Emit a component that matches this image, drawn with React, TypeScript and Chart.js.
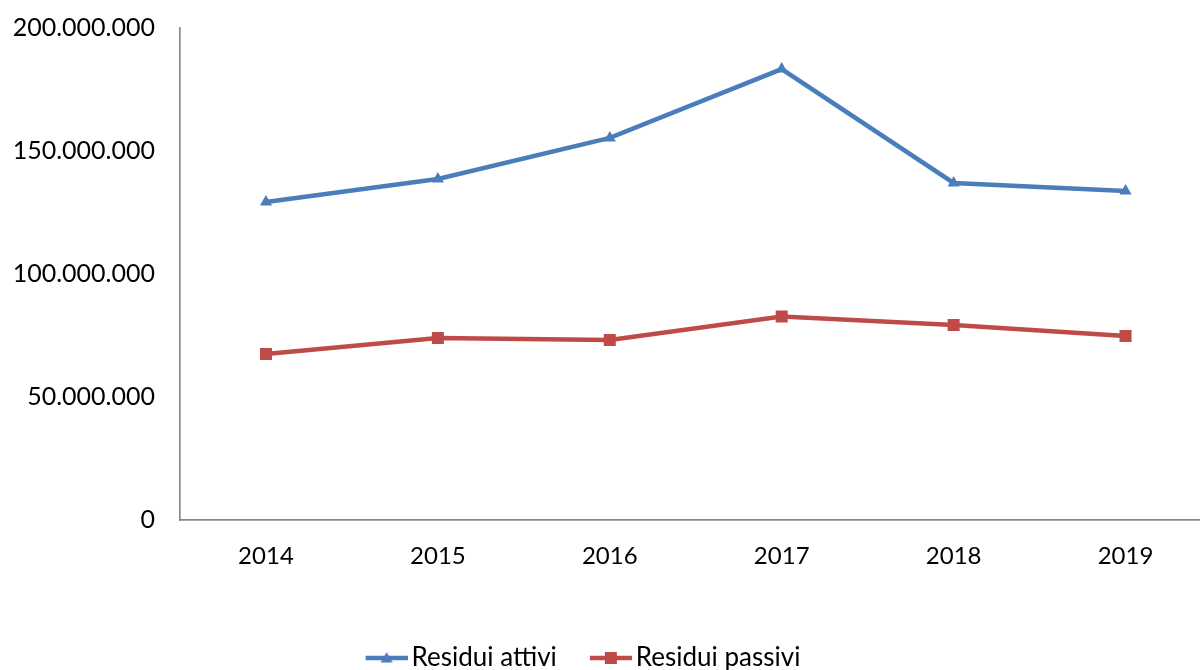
import React, { useEffect, useRef } from "react";
import { Chart, registerables } from "chart.js";

Chart.register(...registerables);

const years = ["2014", "2015", "2016", "2017", "2018", "2019"];
const residuiAttivi = [129300000, 138600000, 155300000, 183300000, 137000000, 133700000];
const residuiPassivi = [67500000, 74000000, 73200000, 82700000, 79300000, 74800000];
const yTickValues = [0, 50000000, 100000000, 150000000, 200000000];
const seriesNames = ["Residui attivi", "Residui passivi"];

const BLUE = "#4A7EBB";
const RED = "#BE4B48";
const AXIS = "#898989";
const FONT = "Lato, 'Open Sans', sans-serif";

function formatIt(v: number): string {
  return String(Math.round(v)).replace(/\B(?=(\d{3})+(?!\d))/g, ".");
}

// legend sample: transparent 9px on the left so the visible line starts at the item's x
function legendImage(color: string, kind: "triangle" | "rect"): HTMLCanvasElement {
  const c = document.createElement("canvas");
  c.width = 51;
  c.height = 16;
  const ctx = c.getContext("2d")!;
  ctx.strokeStyle = color;
  ctx.fillStyle = color;
  ctx.lineWidth = 4.5;
  ctx.beginPath();
  ctx.moveTo(9, 8);
  ctx.lineTo(51, 8);
  ctx.stroke();
  ctx.beginPath();
  if (kind === "triangle") {
    ctx.moveTo(30, 2);
    ctx.lineTo(36, 12.5);
    ctx.lineTo(24, 12.5);
    ctx.closePath();
  } else {
    ctx.rect(24, 2, 12, 12);
  }
  ctx.fill();
  return c;
}

export default function App() {
  const ref = useRef<HTMLCanvasElement | null>(null);

  useEffect(() => {
    if (!ref.current) return;
    const imgs = [legendImage(BLUE, "triangle"), legendImage(RED, "rect")];
    const chart = new Chart(ref.current, {
      type: "line",
      data: {
        labels: years,
        datasets: [
          {
            label: seriesNames[0],
            data: residuiAttivi,
            borderColor: BLUE,
            backgroundColor: BLUE,
            borderWidth: 4.5,
            pointStyle: "triangle",
            pointRadius: 7,
            pointBorderWidth: 0,
            tension: 0,
          },
          {
            label: seriesNames[1],
            data: residuiPassivi,
            borderColor: RED,
            backgroundColor: RED,
            borderWidth: 4.5,
            pointStyle: "rect",
            pointRadius: 8.5,
            pointBorderWidth: 0,
            tension: 0,
          },
        ],
      },
      options: {
        responsive: false,
        animation: false,
        layout: { padding: { top: 28, left: 0, right: 0, bottom: 19 } },
        plugins: {
          tooltip: { enabled: false },
          legend: {
            position: "bottom",
            labels: {
              usePointStyle: true,
              pointStyleWidth: 33,
              padding: 33,
              color: "#000000",
              font: { family: FONT, size: 26 },
              generateLabels: (ch: any) =>
                ch.data.datasets.map((ds: any, i: number) => ({
                  text: ds.label,
                  pointStyle: imgs[i],
                  fillStyle: ds.borderColor,
                  strokeStyle: ds.borderColor,
                  lineWidth: 0,
                  hidden: false,
                  datasetIndex: i,
                  fontColor: "#000000",
                })),
            },
          },
        },
        scales: {
          x: {
            type: "category",
            offset: true,
            grid: { display: false, drawTicks: false },
            border: { display: true, color: AXIS, width: 1.7 },
            ticks: {
              padding: 22,
              color: "#000000",
              font: { family: FONT, size: 24 },
              maxRotation: 0,
            },
            afterFit: (s: any) => {
              s.height = 92;
            },
          },
          y: {
            type: "linear",
            min: 0,
            max: 200000000,
            grid: { display: false, drawTicks: false },
            border: { display: true, color: AXIS, width: 1.7 },
            ticks: {
              stepSize: 50000000,
              padding: 25,
              color: "#000000",
              font: { family: FONT, size: 25 },
              callback: (v: any) => formatIt(Number(v)),
            },
            afterBuildTicks: (s: any) => {
              s.ticks = yTickValues.map((v) => ({ value: v }));
            },
            afterFit: (s: any) => {
              s.width = 234;
              s.paddingTop = 0;
              s.paddingBottom = 0;
            },
          },
        },
      },
    });
    return () => chart.destroy();
  }, []);

  return (
    <div
      style={{
        position: "fixed",
        left: 0,
        top: 0,
        width: 1200,
        height: 670,
        overflow: "hidden",
        background: "#ffffff",
      }}
    >
      <canvas
        ref={ref}
        width={1274}
        height={700}
        style={{ position: "absolute", left: -54, top: 0, width: 1274, height: 700 }}
      />
    </div>
  );
}
